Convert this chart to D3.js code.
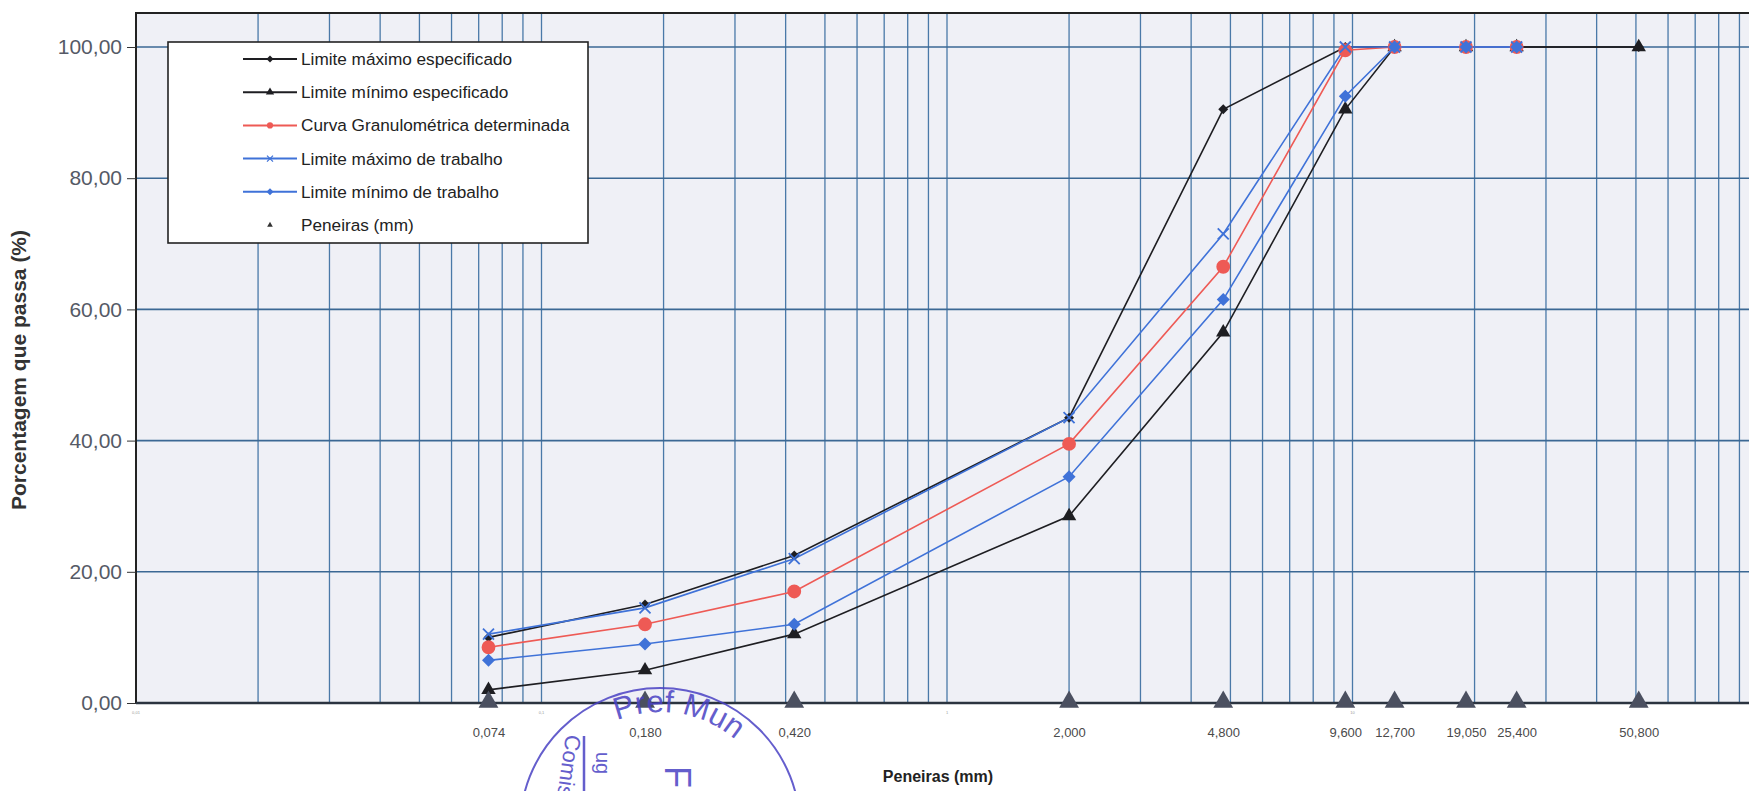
<!DOCTYPE html>
<meta charset="utf-8">
<script src="https://d3js.org/d3.v7.min.js"></script>
<style>
  body { margin: 0; background: #fff; }
  text { font-family: "Liberation Sans", Arial, sans-serif; }
</style>
<div id="chart"></div>
<script>
  // sieve openings (mm) and % passing for each curve
  var sieves      = [0.074, 0.180, 0.420, 2.000, 4.800, 9.600, 12.700, 19.050, 25.400, 50.800];
  var maxSpec     = [10, 15, 22.5, 43.5, 90.5, 100, 100, 100, 100, 100];
  var minSpec     = [2, 5, 10.5, 28.5, 56.5, 90.5, 100, 100, 100, 100];
  var curve       = [8.5, 12, 17, 39.5, 66.5, 99.5, 100, 100, 100];
  var maxWork     = [10.5, 14.5, 22, 43.5, 71.5, 100, 100, 100, 100];
  var minWork     = [6.5, 9, 12, 34.5, 61.5, 92.5, 100, 100, 100];
  var yTicks      = [0, 20, 40, 60, 80, 100];
  var seriesNames = ["Limite máximo especificado", "Limite mínimo especificado",
                     "Curva Granulométrica determinada", "Limite máximo de trabalho",
                     "Limite mínimo de trabalho", "Peneiras (mm)"];

  var W = 1749, H = 791;
  var svg = d3.select("#chart").append("svg")
    .attr("width", W).attr("height", H);

  // plot area (right edge runs past the picture, like the scan)
  var x = d3.scaleLog().domain([0.01, 100]).range([136, 1758]);
  var y = d3.scaleLinear().domain([0, 100]).range([703, 47]);
  var plotTop = 13;

  svg.append("rect")
    .attr("x", x(0.01)).attr("y", plotTop)
    .attr("width", x(100) - x(0.01)).attr("height", y(0) - plotTop)
    .attr("fill", "#eff0f6");

  // vertical log grid
  var minor = [];
  [0.01, 0.1, 1, 10].forEach(function(d){
    for (var k = 1; k < 10; k++) minor.push(d * k);
  });
  minor.push(100);
  svg.append("g").selectAll("line")
    .data(minor).enter().append("line")
      .attr("x1", function(d){ return x(d) }).attr("x2", function(d){ return x(d) })
      .attr("y1", plotTop).attr("y2", y(0))
      .attr("stroke", "#4a79a8").attr("stroke-width", 1.3);

  // horizontal grid
  svg.append("g").selectAll("line")
    .data(yTicks.slice(1)).enter().append("line")
      .attr("x1", x(0.01)).attr("x2", W)
      .attr("y1", function(d){ return y(d) }).attr("y2", function(d){ return y(d) })
      .attr("stroke", "#3b6894").attr("stroke-width", 1.6);

  // frame
  svg.append("path")
    .attr("d", "M" + x(0.01) + "," + y(0) + "V" + plotTop + "H" + W)
    .attr("fill", "none").attr("stroke", "#222").attr("stroke-width", 2);
  svg.append("line")
    .attr("x1", x(0.01)).attr("x2", W).attr("y1", y(0)).attr("y2", y(0))
    .attr("stroke", "#2b3440").attr("stroke-width", 2.5);

  // y axis
  var yAxis = svg.append("g")
    .attr("transform", "translate(" + x(0.01) + ",0)")
    .call(d3.axisLeft(y).tickValues(yTicks).tickSize(9).tickPadding(5)
      .tickFormat(function(d){ return d3.format(".2f")(d).replace(".", ",") }));
  yAxis.select(".domain").remove();
  yAxis.selectAll("line").attr("stroke", "#333");
  yAxis.selectAll("text").attr("font-size", 21).attr("fill", "#555a66")
    .attr("font-family", "Liberation Sans, Arial, sans-serif");

  // x tick labels at the sieves
  var xAxis = svg.append("g")
    .attr("transform", "translate(0," + y(0) + ")")
    .call(d3.axisBottom(x).tickValues(sieves).tickSize(0).tickPadding(25)
      .tickFormat(function(d){ return d3.format(".3f")(d).replace(".", ",") }));
  xAxis.select(".domain").remove();
  xAxis.selectAll("text").attr("font-size", 13).attr("fill", "#4a4a4a")
    .attr("font-family", "Liberation Sans, Arial, sans-serif");

  // tiny decade labels printed near the axis
  svg.append("g").selectAll("text")
    .data([0.01, 0.1, 1, 10]).enter().append("text")
      .attr("x", function(d){ return x(d) }).attr("y", y(0) + 11)
      .attr("text-anchor", "middle").attr("font-size", 4).attr("fill", "#999")
      .text(function(d){ return String(d).replace(".", ",") });

  // axis titles
  svg.append("text")
    .attr("transform", "translate(26,370) rotate(-90)")
    .attr("text-anchor", "middle").attr("font-weight", "bold")
    .attr("font-size", 21).attr("fill", "#333")
    .text("Porcentagem que passa (%)");
  svg.append("text")
    .attr("x", 938).attr("y", 782)
    .attr("text-anchor", "middle").attr("font-weight", "bold")
    .attr("font-size", 16).attr("fill", "#222")
    .text("Peneiras (mm)");

  // series
  var line = d3.line()
    .x(function(d){ return x(d[0]) })
    .y(function(d){ return y(d[1]) });
  function pts(vals){ return vals.map(function(v, i){ return [sieves[i], v] }) }

  var series = [
    {vals: maxSpec, color: "#1e1e22", kind: "diamond", r: 5},
    {vals: minSpec, color: "#1e1e22", kind: "triangle", r: 90},
    {vals: curve,   color: "#ee5a55", kind: "circle", r: 150},
    {vals: maxWork, color: "#3f72d8", kind: "x", r: 5.5},
    {vals: minWork, color: "#3f72d8", kind: "diamond", r: 6.5}
  ];

  series.forEach(function(s){
    svg.append("path")
      .datum(pts(s.vals))
      .attr("d", line)
      .attr("fill", "none").attr("stroke", s.color).attr("stroke-width", 1.6);
  });

  // one marker path centred on 0,0
  function markerPath(kind, r){
    if (kind === "x")
      return "M" + (-r) + "," + (-r) + "L" + r + "," + r + "M" + (-r) + "," + r + "L" + r + "," + (-r);
    if (kind === "diamond")
      return "M0," + (-r) + "L" + r + ",0L0," + r + "L" + (-r) + ",0Z";
    if (kind === "triangle") return d3.symbol().type(d3.symbolTriangle).size(r)();
    return d3.symbol().type(d3.symbolCircle).size(r)();
  }
  function styleMarker(sel, s){
    if (s.kind === "x") sel.attr("fill", "none").attr("stroke", s.color).attr("stroke-width", 1.8);
    else sel.attr("fill", s.color);
  }
  series.forEach(function(s){
    var m = svg.append("g").selectAll("path").data(pts(s.vals)).enter().append("path")
      .attr("transform", function(d){ return "translate(" + x(d[0]) + "," + y(d[1]) + ")" })
      .attr("d", markerPath(s.kind, s.r));
    styleMarker(m, s);
  });

  // sieve markers on the axis
  svg.append("g").selectAll("path")
    .data(sieves).enter().append("path")
      .attr("transform", function(d){ return "translate(" + x(d) + "," + (y(0) - 1) + ")" })
      .attr("d", d3.symbol().type(d3.symbolTriangle).size(170))
      .attr("fill", "#4b5060");

  // legend
  var lg = svg.append("g");
  lg.append("rect")
    .attr("x", 168).attr("y", 42).attr("width", 420).attr("height", 201)
    .attr("fill", "#fff").attr("stroke", "#222").attr("stroke-width", 1.6);
  var legendItems = series.concat([{color: "#333", kind: "triangle", r: 14, noLine: true}]);
  var legendSize = {diamond: 3.5, triangle: 30, circle: 30, x: 3};
  legendItems.forEach(function(s, i){
    var ly = 59 + i * 33.2;
    var g = lg.append("g");
    if (!s.noLine) {
      g.append("line").attr("x1", 243).attr("x2", 297).attr("y1", ly).attr("y2", ly)
        .attr("stroke", s.color).attr("stroke-width", 2);
    }
    var mk = g.append("path")
      .attr("transform", "translate(270," + ly + ")")
      .attr("d", markerPath(s.kind, s.noLine ? s.r : legendSize[s.kind]));
    styleMarker(mk, s);
    if (s.kind === "x") mk.attr("stroke-width", 1.2);
    g.append("text")
      .attr("x", 301).attr("y", ly + 6)
      .attr("font-size", 17.2).attr("fill", "#222")
      .text(seriesNames[i]);
  });

  // stamp over the axis (scanned document)
  var ink = "#4a42c4";
  var R = 140, rt = 116;
  var stamp = svg.append("g").attr("transform", "translate(660,828)").attr("opacity", 0.85);
  stamp.append("circle").attr("r", R)
    .attr("fill", "none").attr("stroke", ink).attr("stroke-width", 2);
  function pt(a, r){ return [r * Math.sin(a), -r * Math.cos(a)] }
  var a0 = pt(-0.38, rt), a1 = pt(1.0, rt);
  stamp.append("path").attr("id", "arcTop")
    .attr("d", "M" + a0 + "A" + rt + "," + rt + " 0 0,1 " + a1)
    .attr("fill", "none");
  stamp.append("text").attr("font-size", 31).attr("fill", ink)
    .append("textPath").attr("href", "#arcTop").text("Pref  Mun");
  stamp.append("text")
    .attr("transform", "translate(-94,-94) rotate(98)")
    .attr("font-size", 22).attr("fill", ink)
    .text("Comis");
  stamp.append("text")
    .attr("transform", "translate(5,-62) rotate(90)")
    .attr("font-size", 36).attr("fill", ink)
    .text("FL");
  stamp.append("text")
    .attr("transform", "translate(-64,-76) rotate(90)")
    .attr("font-size", 20).attr("fill", ink)
    .text("ug");
  stamp.append("line").attr("x1", -76).attr("x2", -76).attr("y1", -92).attr("y2", -30)
    .attr("stroke", ink).attr("stroke-width", 2.5);
</script>
